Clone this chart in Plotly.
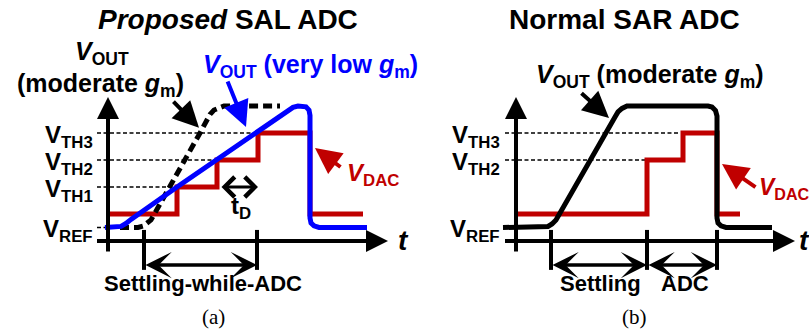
import plotly.graph_objects as go

W, H = 809, 329

# ---------------- waveform data ----------------
# time t in arbitrary units, voltage v in units of one threshold step
V_REF, V_TH1, V_TH2, V_TH3, V_TOP = 0.5, 2.0, 3.0, 4.0, 5.0

# (a) proposed SAL ADC
dac_a_t = [0.1, 6.9, 6.9, 10.9, 10.9, 15.0, 15.0, 20.2, 20.2, 25.5]
dac_a_v = [1.0, 1.0, 2.0, 2.0, 3.0, 3.0, 4.0, 4.0, 1.0, 1.0]

low_gm_t = [-0.3, 0.8, 1.3, 1.8, 2.3, 6.9, 15.0, 17.5, 18.0, 18.5, 19.0, 19.4,
            19.8, 20.1, 20.2, 20.2, 20.3, 20.6, 21.1, 25.9]
low_gm_v = [0.5, 0.5, 0.54, 0.65, 0.8, 2.0, 4.04, 4.67, 4.84, 4.95, 5.0, 5.0,
            4.97, 4.85, 4.65, 0.85, 0.67, 0.56, 0.5, 0.5]

mod_gm_a_t = [1.2, 3.0, 3.5, 3.9, 4.3, 9.2, 9.9, 10.2, 10.6, 11.1, 11.6, 17.2]
mod_gm_a_v = [0.5, 0.5, 0.55, 0.65, 0.78, 4.0, 4.48, 4.69, 4.85, 4.95, 5.0, 5.0]

ticks_a = [3.6, 14.9]
td_span = [11.2, 15.0]

# (b) normal SAR ADC
dac_b_t = [0.1, 13.1, 13.1, 16.7, 16.7, 20.1, 20.1, 22.4]
dac_b_v = [1.0, 1.0, 3.0, 3.0, 4.0, 4.0, 1.0, 1.0]

mod_gm_b_t = [-1.3, 2.6, 3.2, 3.6, 4.0, 9.9, 10.2, 10.6, 11.1, 19.2, 19.6, 19.95,
              20.1, 20.1, 20.2, 20.5, 21.0, 25.6]
mod_gm_b_v = [0.5, 0.5, 0.54, 0.63, 0.78, 4.59, 4.78, 4.91, 5.0, 5.0, 4.96, 4.83,
              4.63, 0.85, 0.67, 0.56, 0.5, 0.5]

ticks_b = [3.5, 13.1, 20.1]

# threshold guide lines: (level, start, end)
guides_a = [(V_TH3, -1.1, 15.0), (V_TH2, -1.1, 10.9), (V_TH1, -1.1, 6.9), (V_REF, -1.1, -0.3)]
guides_b = [(V_TH3, -1.1, 16.4), (V_TH2, -1.1, 13.1)]

# threshold tick labels
levels_a = [("TH3", V_TH3), ("TH2", V_TH2), ("TH1", V_TH1), ("REF", V_REF)]
levels_b = [("TH3", V_TH3), ("TH2", V_TH2), ("REF", V_REF)]

RED = "#c00000"
BLUE = "#0000ff"
BLACK = "#000000"
FONT = "Liberation Sans"

fig = go.Figure()


def line(x, y, color, width, dash="solid", xa="x"):
    fig.add_trace(go.Scatter(x=x, y=y, mode="lines", xaxis=xa, yaxis="y",
                             line=dict(color=color, width=width, dash=dash),
                             hoverinfo="skip", showlegend=False))


def guides(rows, xa):
    xs, ys = [], []
    for lv, t0, t1 in rows:
        xs += [t0, t1, None]
        ys += [lv, lv, None]
    line(xs, ys, BLACK, 1.6, dash="4px,2.5px", xa=xa)


def ticks(ts, xa):
    xs, ys = [], []
    for t in ts:
        xs += [t, t, None]
        ys += [0.41, -1.07, None]
    line(xs, ys, BLACK, 4, xa=xa)


# panel (a)
guides(guides_a, "x")
line(dac_a_t, dac_a_v, RED, 5)
line(mod_gm_a_t, mod_gm_a_v, BLACK, 5, dash="9px,5px")
line(low_gm_t, low_gm_v, BLUE, 5)
ticks(ticks_a, "x")

# panel (b)
guides(guides_b, "x2")
line(dac_b_t, dac_b_v, RED, 5, xa="x2")
line(mod_gm_b_t, mod_gm_b_v, BLACK, 5, xa="x2")
ticks(ticks_b, "x2")

ann = []


def arrow(xa, head, tail, color=BLACK, width=4, head_style=2, size=1.1, both=False):
    ann.append(dict(xref=xa, yref="y", axref=xa, ayref="y",
                    x=head[0], y=head[1], ax=tail[0], ay=tail[1],
                    text="", showarrow=True, arrowhead=head_style,
                    arrowsize=size, arrowwidth=width, arrowcolor=color,
                    arrowside="end+start" if both else "end",
                    startarrowhead=head_style, startarrowsize=size,
                    standoff=0, startstandoff=0))


def label(text, px, py, size, color=BLACK, xanchor="center", family=FONT):
    ann.append(dict(xref="paper", yref="paper", x=px / W, y=1 - py / H,
                    xanchor=xanchor, yanchor="middle", text=text, showarrow=False,
                    font=dict(family=family, size=size, color=color)))


for xa, t_end in (("x", 28.0), ("x2", 27.9)):
    # voltage axis and time axis
    arrow(xa, (0, 5.33), (0, -0.44))
    arrow(xa, (t_end, 0), (-1.25, 0))

# spans below the time axis
span = dict(width=3.5, head_style=3, size=1.25, both=True)
arrow("x", (ticks_a[1], -0.89), (ticks_a[0], -0.89), **span)
arrow("x2", (ticks_b[1], -0.89), (ticks_b[0], -0.89), **span)
arrow("x2", (ticks_b[2], -0.89), (ticks_b[1], -0.89), **span)
# t_D delay
arrow("x", (td_span[1], V_TH1), (td_span[0], V_TH1), width=3, head_style=4, size=1.3, both=True)

# pointer arrows from labels
arrow("x", (9.1, 4.19), (6.4, 5.22), size=1.3)
arrow("x", (13.8, 4.22), (11.9, 5.96), color=BLUE, size=1.3)
arrow("x", (20.7, 3.44), (23.4, 2.70), color=RED, size=1.3)
arrow("x2", (9.3, 4.56), (6.4, 5.52), size=1.3)
arrow("x2", (20.6, 2.85), (24.1, 1.96), color=RED, size=1.3)

# titles
label("<b><i>Proposed</i> SAL ADC</b>", 228, 19, 28)
label("<b>Normal SAR ADC</b>", 624, 19, 28)

# curve labels
label("<b><i>V</i><sub>OUT</sub></b>", 102, 53, 25)
label("<b>(moderate <i>g</i><sub>m</sub>)</b>", 100, 85, 25)
label("<b><i>V</i><sub>OUT</sub> (very low <i>g</i><sub>m</sub>)</b>", 310, 66, 25, BLUE)
label("<b><i>V</i><sub>OUT</sub> (moderate <i>g</i><sub>m</sub>)</b>", 650, 76, 25)
label("<b><i>V</i><sub>DAC</sub></b>", 345, 174, 24, RED, xanchor="left")
label("<b><i>V</i><sub>DAC</sub></b>", 757, 188, 23, RED, xanchor="left")
label("<b>t<sub>D</sub></b>", 241, 207, 24)

# threshold labels
for name, lv in levels_a:
    label("<b>V<sub>%s</sub></b>" % name, 95, 241 - 27 * lv + 3, 24, xanchor="right")
for name, lv in levels_b:
    label("<b>V<sub>%s</sub></b>" % name, 502, 241 - 27 * lv + 3, 24, xanchor="right")

# time axis labels
label("<b><i>t</i></b>", 396, 240, 28, xanchor="left")
label("<b><i>t</i></b>", 797, 240, 28, xanchor="left")

# phase labels
label("<b>Settling-while-ADC</b>", 203, 283, 22)
label("<b>Settling</b>", 600, 283, 22)
label("<b>ADC</b>", 685, 283, 22)

label("(a)", 213, 317, 21, family="Liberation Serif")
label("(b)", 634, 317, 21, family="Liberation Serif")

hidden = dict(visible=False, fixedrange=True)
fig.update_layout(
    width=W, height=H, autosize=False,
    margin=dict(l=0, r=0, t=0, b=0),
    paper_bgcolor="white", plot_bgcolor="white",
    xaxis=dict(domain=[0, 400 / W], range=[-10.8, 29.2], **hidden),
    xaxis2=dict(domain=[400 / W, 1], range=[-11.6, 29.3], anchor="y", **hidden),
    yaxis=dict(domain=[0, 1], range=[(241 - 329) / 27, 241 / 27], **hidden),
    annotations=ann,
)

fig.write_html("out.html", config=dict(displayModeBar=False))
